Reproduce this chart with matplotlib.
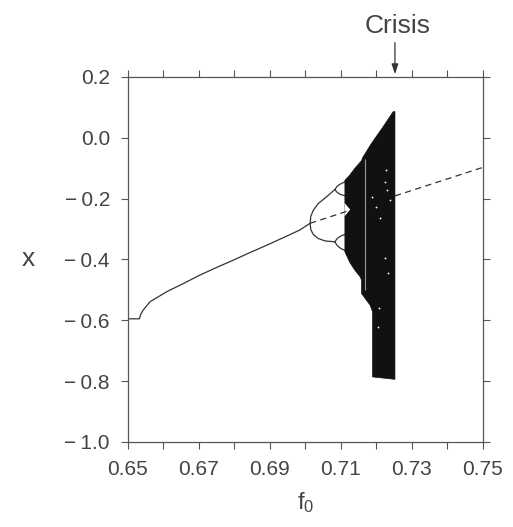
import matplotlib
matplotlib.use("Agg")
import matplotlib.pyplot as plt
import numpy as np

plt.rcParams['font.family'] = ['Liberation Sans', 'DejaVu Sans']

# stable fixed point (period 1)
main_f0 = [0.650, 0.6532, 0.6536, 0.6543, 0.6562, 0.6609, 0.6656, 0.6703,
           0.6750, 0.6797, 0.6844, 0.6891, 0.6938, 0.6984, 0.7013]
main_x = [-0.595, -0.595, -0.580, -0.566, -0.539, -0.506, -0.479, -0.451,
          -0.426, -0.402, -0.377, -0.353, -0.328, -0.303, -0.281]

# unstable fixed point (dashed), visible outside the chaotic band
unst1_f0 = [0.7013, 0.7126]
unst1_x = [-0.281, -0.238]
unst2_f0 = [0.7252, 0.750]
unst2_x = [-0.191, -0.097]

# period 2 branches
p2_f0 = [0.7013, 0.7015, 0.7022, 0.7036, 0.7055, 0.7083]
p2_up = [-0.281, -0.258, -0.238, -0.216, -0.198, -0.170]
p2_lo = [-0.281, -0.302, -0.318, -0.331, -0.339, -0.342]

# period 4 loops
p4_f0 = [0.7083, 0.7088, 0.7095, 0.7103, 0.7111]
p4_a_up = [-0.170, -0.161, -0.154, -0.149, -0.145]
p4_a_lo = [-0.170, -0.178, -0.184, -0.188, -0.190]
p4_b_up = [-0.342, -0.333, -0.326, -0.321, -0.318]
p4_b_lo = [-0.342, -0.352, -0.360, -0.366, -0.370]

# outline of the chaotic region
chaos_f0 = [0.7111, 0.7125, 0.7139, 0.7158, 0.7161, 0.7186, 0.7219, 0.7247,
            0.7252, 0.7252, 0.7189, 0.7189, 0.7182, 0.7168, 0.7158, 0.7158,
            0.7154, 0.7139, 0.7125, 0.7111]
chaos_x = [-0.140, -0.122, -0.100, -0.075, -0.065, -0.018, 0.037, 0.086,
           0.086, -0.794, -0.786, -0.572, -0.550, -0.528, -0.512, -0.468,
           -0.457, -0.435, -0.410, -0.375]

# notch between the two bands where they merge
gap_f0 = [0.7110, 0.7126, 0.7110]
gap_x = [-0.214, -0.236, -0.258]

# periodic window (light streak)
window_f0 = 0.7168
window_lo, window_hi = -0.500, -0.068

# white specks inside the band
speck_f0 = [0.7230, 0.7224, 0.7200, 0.7210, 0.7186, 0.7227, 0.7238,
            0.7206, 0.7224, 0.7233, 0.7203]
speck_x = [-0.172, -0.144, -0.227, -0.265, -0.194, -0.106, -0.205,
           -0.561, -0.396, -0.446, -0.621]

crisis_f0 = 0.7252

fig = plt.figure(figsize=(5.13, 5.27), dpi=100)
ax = fig.add_axes([0.2495, 0.1613, 0.692, 0.6926])

lc = '#333333'
ax.plot(main_f0, main_x, color=lc, lw=0.9)
ax.plot(p2_f0, p2_up, color=lc, lw=0.9)
ax.plot(p2_f0, p2_lo, color=lc, lw=0.9)
for arm in (p4_a_up, p4_a_lo, p4_b_up, p4_b_lo):
    ax.plot(p4_f0, arm, color=lc, lw=0.9)

ax.fill(chaos_f0, chaos_x, color='#111111', lw=0.5, zorder=3)
ax.fill(gap_f0, gap_x, color='white', lw=0, zorder=4)
ax.vlines(window_f0, window_lo, window_hi, color='#999999', lw=0.8, zorder=5)
ax.plot(speck_f0, speck_x, 'o', color='white', ms=1.3, mew=0, zorder=5)

ax.plot(unst1_f0, unst1_x, color=lc, lw=0.9, ls=(0, (5, 3.5)), zorder=5)
ax.plot(unst2_f0, unst2_x, color=lc, lw=0.9, ls=(0, (5, 3.5)), zorder=5)

ax.set_xlim(0.65, 0.75)
ax.set_ylim(-1.0, 0.2)
ax.set_xticks(np.arange(0.65, 0.7501, 0.02))
ax.set_xticks(np.arange(0.65, 0.7501, 0.01), minor=True)
ax.set_yticks(np.arange(-1.0, 0.2001, 0.2))
ax.xaxis.set_major_formatter(matplotlib.ticker.FormatStrFormatter('%.2f'))
ax.yaxis.set_major_formatter(matplotlib.ticker.FuncFormatter(
    lambda v, p: ('\u2212\u2009%.1f' % abs(v)) if v < -1e-9 else '%.1f' % abs(v)))

tc = '#444444'
ax.tick_params(which='both', direction='out', length=5, width=0.8, color='#555555',
               labelsize=15, labelcolor=tc, top=True, right=True, pad=8)
for s in ax.spines.values():
    s.set_color('#555555')
    s.set_linewidth(0.9)

ax.set_xlabel('$\\mathregular{f_0}$', fontsize=17, color=tc, labelpad=8)
ax.set_ylabel('x', fontsize=19, color=tc, rotation=0, labelpad=26, va='center')

ax.annotate('', xy=(crisis_f0, 0.2), xytext=(crisis_f0, 0.322),
            arrowprops=dict(arrowstyle='-|>,head_length=0.6,head_width=0.2',
                            color='#333333', lw=0.9),
            annotation_clip=False)
ax.text(crisis_f0 + 0.0008, 0.345, 'Crisis', fontsize=19, color=tc, ha='center',
        va='baseline', transform=ax.transData)

fig.savefig('out.png', dpi=100)
